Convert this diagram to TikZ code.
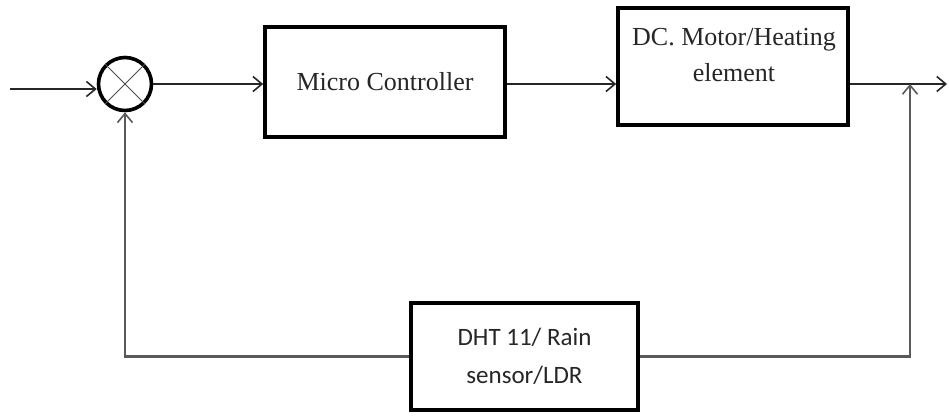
\documentclass[tikz,border=0pt]{standalone}
\usepackage{fontspec}
\newfontfamily\tnrfont{Liberation Serif}
\newfontfamily\carlfont{Carlito}
\usetikzlibrary{arrows.meta}
\begin{document}
\begin{tikzpicture}[x=1pt,y=-1pt,
  blk/.style={draw=black, line width=3.6pt, rectangle, inner sep=0pt},
  conn/.style={draw=black!85, line width=1.6pt},
  fb/.style={draw=black!65, line width=2.2pt},
  tip/.style={-{Straight Barb[length=9pt,width=15pt,line width=1.6pt]}},
  sertext/.style={font=\tnrfont\fontsize{26}{36}\selectfont, text=black!85, align=center},
  santext/.style={font=\carlfont\fontsize{25}{38}\selectfont, text=black!85, align=center}]
\useasboundingbox (0,0) rectangle (949,416);
% summing junction
\node[circle, draw=black, line width=3.6pt, minimum size=53pt, inner sep=0pt] (sum) at (125,84) {};
\draw[black!70, line width=1pt] (sum.north west) -- (sum.south east);
\draw[black!70, line width=1pt] (sum.north east) -- (sum.south west);
% blocks
\node[blk, minimum width=240pt, minimum height=110pt, sertext] (mc) at (385,82) {Micro Controller};
\node[blk, minimum width=230pt, minimum height=117pt] (dc) at (733,66.5) {};
\node[sertext] (dctext) at (734,55) {DC. Motor/Heating\\element};
\node[blk, minimum width=227pt, minimum height=107pt, santext] (sensor) at (524.5,356.5) {DHT 11/ Rain\\sensor/LDR};
% coordinates
\coordinate (in) at (10,89);
\coordinate (j) at (910,84);
\coordinate (out) at (947,84);
% connectors
\draw[conn, tip] (in) -- (in -| sum.west);
\draw[conn, tip] (sum.east) -- (sum.east -| mc.west);
\draw[conn, tip] (sum.east -| mc.east) -- (sum.east -| dc.west);
\draw[conn, tip] (j -| dc.east) -- (out);
\draw[fb, tip] (sensor.east) -- (sensor.east -| j) -- (j);
\draw[fb, tip] (sensor.west) -- (sensor.west -| sum) -- (sum.south);
\end{tikzpicture}
\end{document}
